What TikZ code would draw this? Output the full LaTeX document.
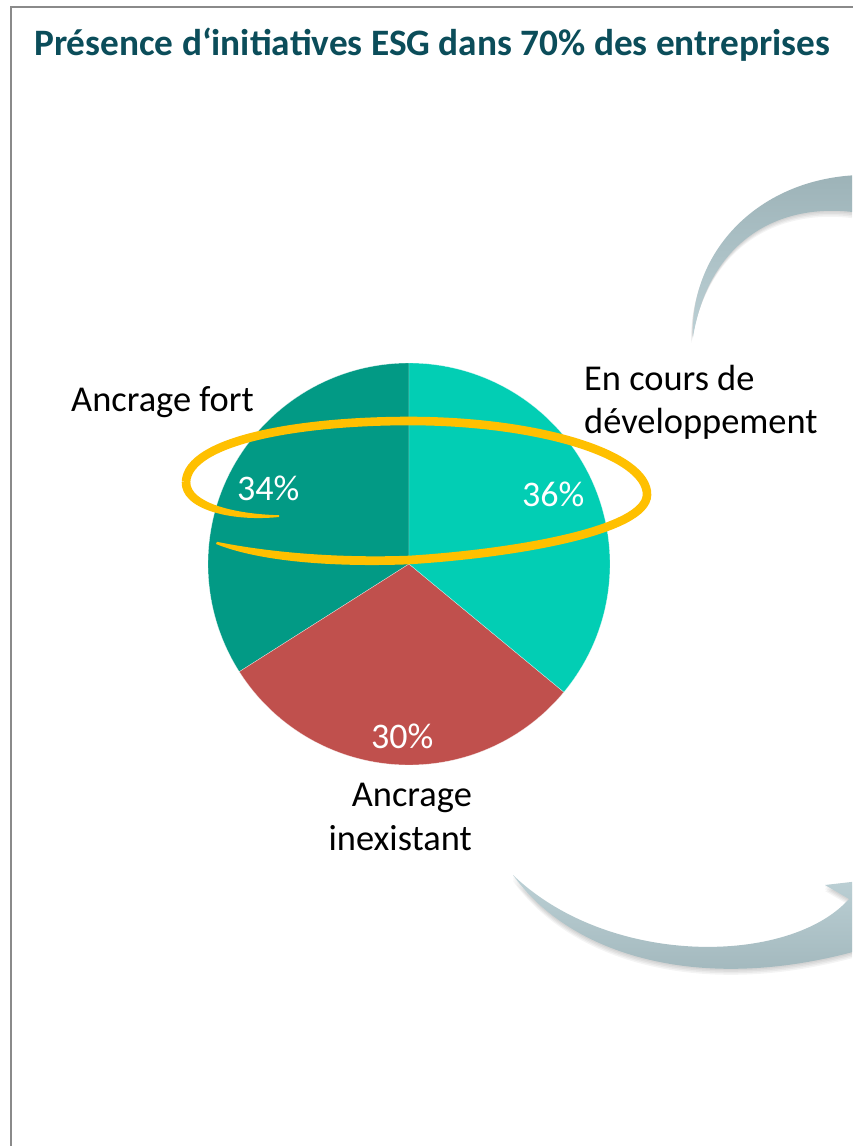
\documentclass[tikz,border=0pt]{standalone}
\usepackage{fontspec}
\setmainfont{Carlito}
\definecolor{darkteal}{HTML}{029A85}
\definecolor{lightteal}{HTML}{02CEB4}
\definecolor{pieRed}{HTML}{C0504D}
\definecolor{ringOrange}{HTML}{FFC000}
\definecolor{titleBlue}{HTML}{0B4D5A}
\definecolor{frameGray}{HTML}{8A8A8A}
\definecolor{arrowDark}{HTML}{9DB3B8}
\definecolor{arrowLight}{HTML}{BCD0D5}
\tikzset{
  lbl/.style={inner sep=0pt, font=\fontsize{36.4}{44}\selectfont, text=black},
  pct/.style={inner sep=0pt, font=\fontsize{36}{44}\selectfont, text=white},
  ttl/.style={inner sep=0pt, font=\fontsize{37.3}{44}\selectfont\bfseries, text=titleBlue},
  slice/.style={draw=white, draw opacity=0.6, line width=0.4pt, line join=round},
  ring/.style={ringOrange, line width=8.6pt},
  shadowfill/.style={fill=black, fill opacity=0.045}
}
\newcommand{\toparrowpath}{(693,337) .. controls (690,250) and (760,178) .. (860,175)
  -- (860,213) .. controls (775,200) and (708,245) .. (693,337) -- cycle}
\newcommand{\botarrowpath}{(513,875) .. controls (570,955) and (700,995) .. (860,950)
  -- (860,881) -- (825,885) -- (849,899)
  .. controls (790,965) and (610,968) .. (513,875) -- cycle}
\begin{document}
\begin{tikzpicture}[x=1pt,y=-1pt]
\useasboundingbox (0,0) rectangle (852,1146);
\fill[white] (0,0) rectangle (852,1146);
% frame
\draw[frameGray, line width=2.4pt] (11,1160) -- (11,7.2) -- (870,7.2);
% gray curved arrows
\begin{scope}
\clip (0,0) rectangle (852,1146);
\foreach \s in {1.5,3,4.5,6} {
  \fill[shadowfill, shift={(-0.3*\s,\s)}] \toparrowpath;
  \fill[shadowfill, shift={(0,\s)}] \botarrowpath;
}
\shade[top color=arrowDark, bottom color=arrowLight] \toparrowpath;
\shade[top color=arrowLight, bottom color=arrowDark] \botarrowpath;
\end{scope}
% pie
\coordinate (c) at (409,564);
\fill[darkteal, slice] (c) -- ++(-90:201) arc[start angle=-90, end angle=-212.4, radius=201] -- cycle;
\fill[pieRed, slice] (c) -- ++(-212.4:201) arc[start angle=-212.4, end angle=-320.4, radius=201] -- cycle;
\fill[lightteal, slice] (c) -- ++(-320.4:201) arc[start angle=-320.4, end angle=-450, radius=201] -- cycle;
% percentages
\node[pct, anchor=base west] (p34) at (237,500) {34\%};
\node[pct, anchor=base west] (p36) at (522,506) {36\%};
\node[pct, anchor=base west] (p30) at (371,748) {30\%};
% orange ring
\draw[ring, line cap=butt] (186,482) .. controls (188,440) and (300,421) .. (409,421)
  .. controls (540,421) and (648,455) .. (647,495)
  .. controls (646,530) and (520,553) .. (409,560);
\fill[ringOrange] (181.7,482) .. controls (180.7,509) and (230,522) .. (279,517)
  -- (279,515.2) .. controls (232,514) and (190,502) .. (190.3,482) -- cycle;
\fill[ringOrange] (409,564.3) .. controls (330,567.3) and (258,561) .. (216,544)
  -- (217,541.8) .. controls (262,551) and (330,558.5) .. (409,555.7) -- cycle;
% labels
\node[ttl, anchor=base west] (title) at (34,55) {Présence d‘initiatives ESG dans 70\% des entreprises};
\node[lbl, anchor=base west] (fort) at (71,411) {Ancrage fort};
\node[lbl, anchor=base west] (dev1) at (584,390) {En cours de};
\node[lbl, anchor=base west] (dev2) at (584,433) {développement};
\node[lbl, anchor=base east] (inex1) at (472,806) {Ancrage};
\node[lbl, anchor=base east] (inex2) at (472,850) {inexistant};
\end{tikzpicture}
\end{document}
